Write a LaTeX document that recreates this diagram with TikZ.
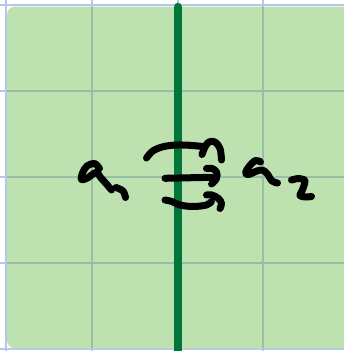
\documentclass[tikz,border=0pt]{standalone}
\definecolor{bggreen}{RGB}{189,226,176}
\definecolor{gridblue}{RGB}{182,200,232}
\definecolor{gridgreen}{RGB}{152,190,165}
\definecolor{wall}{RGB}{0,118,58}
\tikzset{
  ink/.style={line width=7pt, line cap=round, line join=round, black},
  gridline/.style={line width=1.4pt}
}
\begin{document}
\begin{tikzpicture}[x=1pt,y=-1pt]
\useasboundingbox (0,0) rectangle (344,351);
\clip (0,0) rectangle (344,351);
\fill[white] (0,0) rectangle (344,351);
% grid outside the board
\foreach \x in {6,92,178,263} \draw[gridblue,gridline] (\x,0) -- (\x,351);
\foreach \y in {5,91,177,263,349} \draw[gridblue,gridline] (0,\y) -- (344,\y);
% board
\fill[bggreen,rounded corners=8pt] (7,6.5) rectangle (356,348.3);
\begin{scope}
\clip[rounded corners=8pt] (7,6.5) rectangle (356,348.3);
\foreach \x in {6,92,178,263} \draw[gridgreen,gridline] (\x,0) -- (\x,351);
\foreach \y in {91,177,263} \draw[gridgreen,gridline] (0,\y) -- (344,\y);
\end{scope}
% wall
\draw[wall,line width=8.5pt,line cap=round] (178,7) -- (178,360);
% a_1
\draw[ink] plot[smooth,tension=0.6] coordinates {(99.5,168.5) (94.5,163.5) (87,166) (82.5,173) (81.5,179.5) (87.5,178) (96,172.5) (101,178) (106,183.5) (111.5,190)};
\draw[ink] plot[smooth,tension=0.6] coordinates {(116,187.5) (123,191) (125.5,197.5)};
% a_2
\draw[ink] plot[smooth,tension=0.6] coordinates {(260.5,162) (255.5,160.5) (249,166.5) (245.5,173) (249,174.5) (255.5,171.5) (262,170) (267,173.5) (272,181) (277.5,183)};
\draw[ink] plot[smooth,tension=0.4] coordinates {(291.5,180) (298.5,178.5) (305,180.5) (303,188.5) (300,195.5) (305.5,197) (311.5,196.5)};
% top arrow
\draw[ink] plot[smooth,tension=0.6] coordinates {(146.5,158) (153.5,150.5) (166.5,146) (183.5,145) (203,146.5)};
\draw[ink] plot[smooth,tension=0.6] coordinates {(202,154.5) (205,147) (209,142) (215,142) (220,148.5) (221.5,160)};
% middle arrow
\draw[ink] (165,178.3) -- (211.5,177.3);
\draw[ink] plot[smooth,tension=0.6] coordinates {(206.5,168.5) (212,168.5) (216.5,172) (216.5,178.5) (211.5,184)};
% bottom arrow
\draw[ink] plot[smooth,tension=0.6] coordinates {(165,200) (172,201.5) (180,205) (193,206.5) (206.5,205) (211.5,201.5)};
\draw[ink] plot[smooth,tension=0.6] coordinates {(206.5,195) (212,195) (218.5,198.5) (221.5,203.5) (220,208.5)};
\end{tikzpicture}
\end{document}
